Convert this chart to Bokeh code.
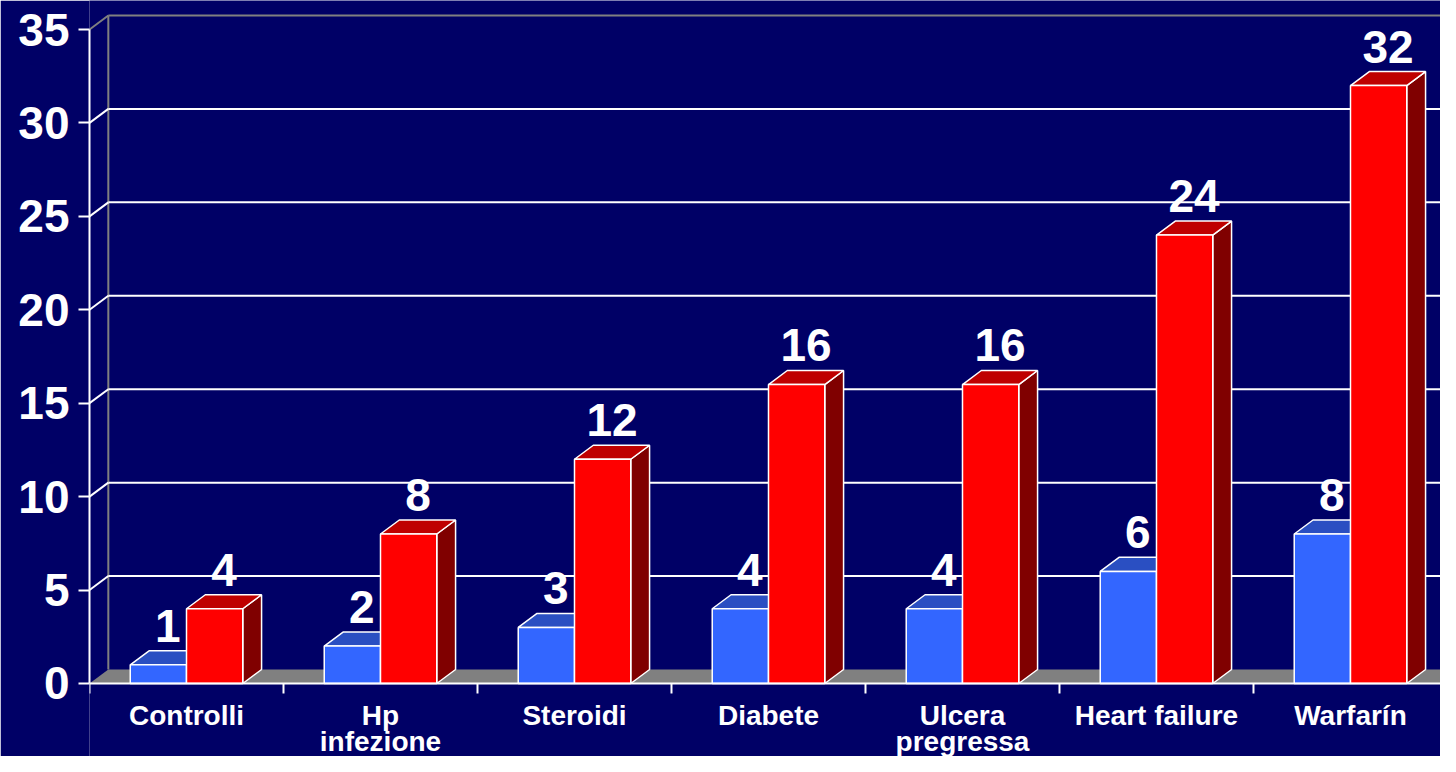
from bokeh.plotting import figure
from bokeh.models import Range1d, ColumnDataSource, FixedTicker
from bokeh.core.properties import value
from bokeh.embed import file_html
from bokeh.resources import INLINE

# ---- data ----
categories = ["Controlli", "Hp\ninfezione", "Steroidi", "Diabete",
              "Ulcera\npregressa", "Heart failure", "Warfarín"]
series_low = [1, 2, 3, 4, 4, 6, 8]
series_high = [4, 8, 12, 16, 16, 24, 32]
y_ticks = [0, 5, 10, 15, 20, 25, 30, 35]

# ---- style ----
NAVY = "#000066"
FONT = "Liberation Sans"
GRAY = "#808080"
DX = 0.097   # depth offset in x (categories)
DY = 0.75    # depth offset in y (values)
BW = 0.29    # bar width
n = len(categories)
ymax = max(y_ticks)

p = figure(width=1440, height=756,
           x_range=Range1d(0, 6.964), y_range=Range1d(-3.907, 36.552),
           x_axis_type=None,
           min_border_left=89, min_border_right=0, min_border_top=0, min_border_bottom=0,
           background_fill_color=NAVY, border_fill_color=NAVY,
           outline_line_color=None, toolbar_location=None, output_backend="svg")
p.grid.visible = False

yax = p.yaxis[0]
yax.ticker = FixedTicker(ticks=y_ticks)
yax.bounds = (0, ymax)
yax.axis_line_color = "white"
yax.axis_line_width = 2
yax.major_tick_line_color = "white"
yax.major_tick_line_width = 2
yax.major_tick_out = 11
yax.major_tick_in = 0
yax.minor_tick_line_color = None
yax.major_label_standoff = 9
yax.major_label_text_font = FONT
yax.major_label_text_font_style = "bold"
yax.major_label_text_font_size = "46px"
yax.major_label_text_color = "white"

# floor
p.patch([0, n, n + DX, DX], [0, 0, DY, DY], fill_color=GRAY, line_color=None)

# back wall vertical edge
p.segment(x0=[DX], y0=[DY], x1=[DX], y1=[ymax + DY], line_color=GRAY, line_width=2)

# gridlines (side wall diagonal + back wall horizontal)
for v in y_ticks[1:]:
    col = GRAY if v == ymax else "white"
    p.segment(x0=[0, DX], y0=[v, v + DY], x1=[DX, n + DX + 0.2], y1=[v + DY, v + DY],
              line_color=col, line_width=2)


def bar_faces(vals, off):
    front_xs, front_ys, top_xs, top_ys, side_xs, side_ys = [], [], [], [], [], []
    for i, v in enumerate(vals):
        x0 = i + 0.5 + off
        x1 = x0 + BW
        front_xs.append([x0, x1, x1, x0]); front_ys.append([0, 0, v, v])
        top_xs.append([x0, x1, x1 + DX, x0 + DX]); top_ys.append([v, v, v + DY, v + DY])
        side_xs.append([x1, x1 + DX, x1 + DX, x1]); side_ys.append([0, DY, v + DY, v])
    return front_xs, front_ys, top_xs, top_ys, side_xs, side_ys


for vals, off, cf, ct, cs in [(series_low, -BW, "#3366FF", "#2A4FC2", "#1F3A99"),
                              (series_high, 0.0, "#FF0000", "#BF0000", "#800000")]:
    fx, fy, tx, ty, sx, sy = bar_faces(vals, off)
    p.patches(sx, sy, fill_color=cs, line_color="white", line_width=1.5)
    p.patches(tx, ty, fill_color=ct, line_color="white", line_width=1.5)
    p.patches(fx, fy, fill_color=cf, line_color="white", line_width=1.5)
    lab = ColumnDataSource(dict(x=[i + 0.5 + off + BW / 2 + DX / 2 for i in range(n)],
                                y=[v + DY + 1.34 for v in vals],
                                t=[str(v) for v in vals]))
    p.text(x="x", y="y", text="t", source=lab, text_font=value(FONT),
           text_font_style="bold", text_font_size="46px", text_color="white",
           text_align="center", text_baseline="alphabetic")

# front x axis line, ticks and floor right edge
p.segment(x0=[0], y0=[0], x1=[n], y1=[0], line_color="white", line_width=2)
p.segment(x0=list(range(n + 1)), y0=[0] * (n + 1), x1=list(range(n + 1)),
          y1=[-0.535] * (n + 1), line_color="white", line_width=2)
p.segment(x0=[n], y0=[0], x1=[n + DX], y1=[DY], line_color="white", line_width=2)

# category labels
line1 = [c.split("\n")[0] for c in categories]
line2 = [c.split("\n")[1] if "\n" in c else "" for c in categories]
cx = [i + 0.5 for i in range(n)]
p.text(x=cx, y=[-1.73] * n, text=line1, text_font=value(FONT), text_font_style="bold",
       text_font_size="28px", text_color="white", text_align="center",
       text_baseline="alphabetic")
p.text(x=cx, y=[-3.12] * n, text=line2, text_font=value(FONT), text_font_style="bold",
       text_font_size="28px", text_color="white", text_align="center",
       text_baseline="alphabetic")

open("out.html", "w").write(file_html(p, INLINE))
